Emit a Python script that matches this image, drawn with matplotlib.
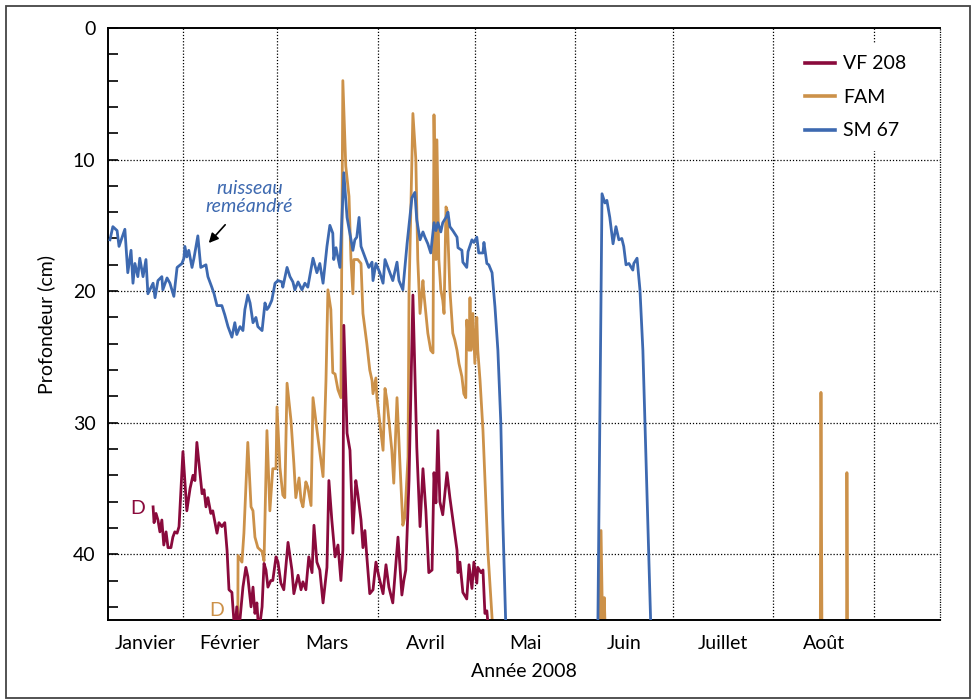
import numpy as np
import matplotlib
matplotlib.use("Agg")
import matplotlib.pyplot as plt
from matplotlib.patches import Rectangle

plt.rcParams['font.family'] = ['Lato', 'DejaVu Sans']

# ---- data: (day of year 2008, depth cm); nan = gap ----
sm67_day = [8.5, 9.4, 10.7, 11.3, 13.1, 14.0, 15.0, 15.6, 16.2, 17.1, 17.7, 18.7, 19.6, 20.2, 21.8, 22.4,
            23.3, 24.5, 24.8, 26.1, 27.0, 28.2, 29.2, 30.7, 31.3, 31.6, 32.2, 32.8, 33.8, 34.4, 35.6, 36.5,
            38.1, 38.7, 39.9, 40.6, 41.5, 43.0, 43.9, 44.9, 46.1, 47.0, 47.6, 48.6, 49.5, 50.1, 51.0, 51.7,
            52.6, 53.5, 54.1, 55.4, 56.3, 56.9, 57.5, 58.4, 59.4, 60.3, 61.5, 61.8, 63.1, 64.0, 64.9, 65.5,
            66.5, 67.7, 68.6, 69.5, 71.1, 72.3, 73.2, 74.2, 75.4, 76.3, 77.2, 77.5, 78.2, 79.4, 80.6, 81.6,
            83.4, 84.0, 84.6, 85.3, 85.9, 87.1, 88.3, 89.3, 89.6, 90.5, 91.7, 92.7, 93.3, 94.2, 95.7, 97.0,
            97.6, 98.8, 100.1, 101.6, 102.5, 103.1, 104.1, 105.0, 105.6, 106.5, 107.4, 108.4, 109.0, 109.6,
            110.5, 111.1, 112.1, 112.7, 113.3, 114.2, 115.5, 115.8, 117.0, 117.3, 118.5, 118.9, 120.1, 120.7,
            121.6, 122.2, 123.5, 123.8, 124.7, 125.3, 126.3, 127.2, 128.1, 129.0, 129.6, 130.6,
            np.nan,
            158.9, 160.2, 161.1, 161.7, 162.6, 163.6, 164.5, 165.4, 166.3, 166.9, 167.6, 168.5, 169.7, 170.0,
            171.0, 171.9, 172.8, 173.4, 174.3, 175.3]
sm67_val = [16.1, 15.1, 15.4, 16.6, 15.3, 18.6, 16.9, 19.4, 17.9, 18.9, 17.5, 18.9, 17.6, 20.2, 19.4, 20.5,
            19.2, 18.9, 19.9, 19.0, 19.4, 20.4, 18.2, 17.9, 17.5, 16.6, 17.4, 16.9, 18.2, 17.5, 15.8, 18.2,
            18.0, 18.9, 19.7, 20.2, 21.1, 21.1, 21.8, 22.7, 23.5, 22.4, 23.3, 22.7, 23.0, 21.4, 20.3, 20.9,
            22.4, 22.0, 22.7, 23.0, 20.9, 21.4, 21.2, 20.7, 19.4, 19.2, 19.3, 19.7, 18.2, 18.9, 19.3, 19.9,
            19.3, 19.9, 19.4, 19.7, 17.5, 18.6, 17.9, 19.4, 16.6, 15.0, 15.6, 17.6, 16.7, 18.2, 11.0, 14.4,
            16.9, 16.1, 15.9, 14.4, 16.6, 17.4, 18.2, 17.8, 19.2, 17.9, 18.6, 19.4, 17.6, 18.2, 19.2, 17.8,
            19.2, 19.9, 16.4, 12.9, 12.5, 14.6, 16.1, 15.5, 15.9, 16.4, 17.1, 14.8, 15.4, 14.8,
            15.5, 14.8, 14.4, 14.0, 15.1, 15.4, 15.9, 16.7, 16.9, 17.8, 18.2, 17.0, 16.1, 16.3,
            15.9, 17.1, 17.1, 16.3, 17.9, 18.0, 18.6, 21.2, 24.5, 30.0, 37.2, 46.0,
            np.nan,
            46.0, 12.6, 13.3, 13.1, 14.4, 16.4, 15.1, 16.1, 16.0, 16.6, 18.0, 17.9, 18.4, 17.9,
            17.5, 19.9, 24.5, 29.6, 37.2, 46.0]

fam_day = [47.9, 48.0, 49.2, 49.8, 51.0, 52.0, 52.6, 53.2, 54.1, 55.4, 56.0, 56.9, 57.8, 58.7, 59.7, 60.0,
           60.9, 61.8, 62.4, 63.1, 64.3, 65.2, 65.8, 66.8, 67.4, 68.0, 68.9, 69.5, 70.5, 71.1, 72.6, 74.2,
           75.1, 75.7, 76.6, 77.2, 77.9, 78.8, 79.7, 80.3, 81.2, 82.2, 82.8, 83.4, 83.7, 84.9, 85.9, 86.5,
           87.7, 88.6, 89.3, 89.6, 90.5, 90.8, 91.7, 92.7, 93.3, 93.9, 95.4, 96.0, 97.0, 97.9, 98.8, 99.4,
           100.4, 100.7, 101.9, 102.8, 103.4, 104.1, 105.0, 105.3, 106.5, 107.4, 108.1, 108.4, 109.0, 109.3,
           109.9, 110.5, 111.1, 111.5, 112.1, 112.4, 113.3, 114.2, 114.8, 115.5, 116.1, 117.0, 117.6, 118.2,
           118.5, 119.2, 119.5, 119.8, 120.4, 121.0, 121.6, 121.9, 122.6, 123.5, 125.0, 126.6,
           np.nan, 159.5, 159.9, 160.4, 160.9, 161.2,
           np.nan, 227.5, 227.7, 228.0,
           np.nan, 235.6, 235.7, 235.9]
fam_val = [46.0, 40.1, 40.6, 38.4, 31.5, 36.4, 36.7, 38.7, 39.5, 39.8, 40.5, 30.6, 36.7, 33.5, 33.5, 28.8,
           33.4, 35.5, 35.7, 27.0, 29.8, 33.1, 35.7, 34.2, 35.9, 36.4, 34.5, 34.9, 36.3, 28.1, 31.1, 34.1,
           26.8, 19.9, 21.4, 26.2, 26.3, 27.5, 28.1, 4.0, 10.5, 12.8, 17.6, 20.2, 17.6, 17.6, 17.9, 21.7,
           24.0, 26.0, 26.8, 27.8, 26.6, 28.1, 30.0, 32.1, 27.4, 28.3, 32.1, 34.6, 28.1, 33.1, 37.8, 37.2,
           32.6, 20.2, 6.5, 10.0, 17.6, 21.7, 19.2, 20.2, 23.2, 24.5, 24.7, 6.6, 17.6, 8.5,
           17.6, 19.9, 20.7, 21.7, 13.6, 13.8, 19.9, 23.2, 23.7, 24.5, 25.5, 26.5, 27.8, 28.1,
           22.2, 24.5, 20.5, 24.5, 21.7, 25.5, 22.0, 24.5, 26.8, 30.6, 39.7, 46.0,
           np.nan, 46.0, 38.2, 46.0, 43.3, 46.0,
           np.nan, 46.0, 27.7, 46.0,
           np.nan, 46.0, 33.8, 46.0]

vf208_day = [21.8, 22.1, 22.7, 23.3, 23.9, 24.5, 25.1, 25.8, 26.4, 27.3, 27.9, 28.5, 29.2, 29.8, 31.0, 32.2,
             33.2, 34.1, 34.7, 35.3, 36.9, 37.5, 38.1, 38.7, 39.6, 40.2, 40.9, 41.5, 42.1, 43.0, 43.9, 44.6,
             45.2, 46.1, 46.4, 47.0, 47.6, 48.2, 49.5, 50.4, 51.0, 52.0, 52.6, 53.2, 53.8, 54.4, 55.4, 56.0,
             56.6, 57.2, 58.1, 58.7, 59.7, 60.3, 61.2, 62.1, 63.4, 64.6, 65.2, 66.5, 67.4, 68.0, 68.9, 69.8,
             70.8, 71.4, 72.3, 73.2, 74.2, 75.4, 76.0, 76.9, 77.9, 78.8, 79.7, 80.3, 80.6, 81.6, 82.5, 83.4,
             84.3, 84.9, 85.9, 86.5, 87.1, 87.7, 88.6, 89.6, 90.5, 91.4, 92.7, 93.6, 94.5, 95.7, 97.3, 98.5,
             99.1, 99.7, 100.7, 101.9, 103.1, 104.1, 105.0, 105.9, 106.8, 107.8, 108.4, 109.0, 109.6, 110.2,
             111.1, 112.4, 113.3, 114.5, 115.5, 115.8, 116.4, 117.3, 118.5, 119.2, 120.1, 120.7, 121.6, 121.9,
             122.9, 123.5, 124.1, 124.7, 125.3]
vf208_val = [36.4, 37.6, 36.9, 37.4, 38.3, 37.4, 39.3, 38.3, 39.5, 39.5, 38.7, 38.3, 38.4, 37.9, 32.2, 36.7,
             35.0, 34.0, 34.4, 31.5, 35.4, 35.1, 36.4, 35.7, 36.9, 36.7, 37.6, 38.4, 37.6, 37.9, 37.6, 39.7,
             42.7, 42.9, 44.0, 46.0, 44.0, 46.0, 42.5, 41.0, 41.7, 44.0, 42.5, 44.5, 43.7, 46.0, 44.0, 40.7,
             41.2, 42.5, 42.0, 42.0, 40.2, 40.6, 42.2, 42.7, 39.1, 41.2, 43.0, 41.6, 42.7, 42.1, 42.7, 40.2,
             41.4, 37.8, 40.6, 41.2, 43.7, 41.0, 34.4, 37.4, 40.2, 39.3, 42.0, 39.7, 22.6, 30.8, 32.1, 38.4,
             34.4, 35.4, 37.4, 39.5, 38.2, 40.2, 43.0, 42.7, 40.6, 41.7, 43.0, 40.8, 42.5, 43.7, 38.7, 43.1,
             42.0, 41.2, 34.4, 20.3, 31.9, 37.9, 33.5, 36.7, 41.4, 41.2, 33.8, 36.1, 30.6, 36.0,
             37.0, 33.8, 35.7, 37.9, 39.7, 41.4, 40.6, 42.9, 43.4, 40.8, 42.6, 40.6, 42.2, 41.0,
             41.4, 41.2, 44.5, 44.3, 46.0]

month_names = ['Janvier', 'Février', 'Mars', 'Avril', 'Mai', 'Juin', 'Juillet', 'Août']
month_starts = [31, 60, 91, 121, 152, 182, 213, 244]   # Feb 1 ... Sep 1 (day of year)
x_min, x_max = 7.9, 264.4
y_max = 45

c_vf = '#8a0a3c'
c_fam = '#cc9149'
c_sm = '#3d69b0'

FS = 14

fig = plt.figure(figsize=(9.75, 6.99), dpi=100)
ax = fig.add_axes([108/975, 1-620/699, (940-108)/975, (620-28)/699])

grid_kw = dict(color='black', lw=0.9, ls=(0, (1, 1.5)), zorder=1)
for m in month_starts:
    ax.axvline(m, **grid_kw)
for yv in [10, 20, 30, 40]:
    ax.axhline(yv, **grid_kw)

lw = 2.0
ax.plot(vf208_day, vf208_val, color=c_vf, lw=lw, label='VF 208', zorder=3)
ax.plot(fam_day, fam_val, color=c_fam, lw=lw, label='FAM', zorder=2.5)
ax.plot(sm67_day, sm67_val, color=c_sm, lw=lw, label='SM 67', zorder=4)

ax.set_xlim(x_min, x_max)
ax.set_ylim(y_max, 0)

ax.set_yticks(np.arange(0, 45, 2), minor=True)
ax.set_yticks([0, 10, 20, 30, 40])
ax.tick_params(axis='y', which='both', direction='in', length=7, width=1.2, labelsize=FS, pad=9)
ax.tick_params(axis='x', which='both', length=0)

bounds = [x_min] + month_starts
centers = [(bounds[i] + bounds[i+1]) / 2 for i in range(len(month_names))]
ax.set_xticks(centers)
ax.set_xticklabels(month_names, fontsize=FS)
ax.tick_params(axis='x', pad=11)

ax.set_xlabel('Année 2008', fontsize=FS, labelpad=8)
ax.set_ylabel('Profondeur (cm)', fontsize=FS, labelpad=13)

for s in ['left', 'top', 'bottom']:
    ax.spines[s].set_linewidth(1.4)
ax.spines['right'].set_visible(False)
ax.axvline(x_max, color='black', lw=0.9, ls=(0, (1, 1.0)), zorder=1, clip_on=False)

leg = ax.legend(loc='upper right', bbox_to_anchor=(0.985, 0.99), fontsize=FS, frameon=True,
                facecolor='white', edgecolor='none', fancybox=False, framealpha=1,
                handlelength=1.55, handletextpad=0.4, labelspacing=0.85, borderpad=0.6)
for h in leg.get_lines():
    h.set_linewidth(2.6)

ax.text(51.5, 12.9, 'ruisseau\nreméandré', color=c_sm, style='italic', fontsize=FS,
        ha='center', va='center', linespacing=1.1)
ax.annotate('', xy=(38.4, 16.5), xytext=(44.6, 14.8),
            arrowprops=dict(arrowstyle='-|>', color='black', lw=1.2, mutation_scale=14))

ax.text(17.1, 36.5, 'D', color=c_vf, fontsize=FS, ha='center', va='center')
ax.text(41.3, 44.3, 'D', color=c_fam, fontsize=FS, ha='center', va='center')

fig.patches.append(Rectangle((6/975, 1/699), (970-6)/975, (692)/699, transform=fig.transFigure,
                             fill=False, edgecolor='#444444', lw=1.3))

fig.savefig('out.png', dpi=100)
